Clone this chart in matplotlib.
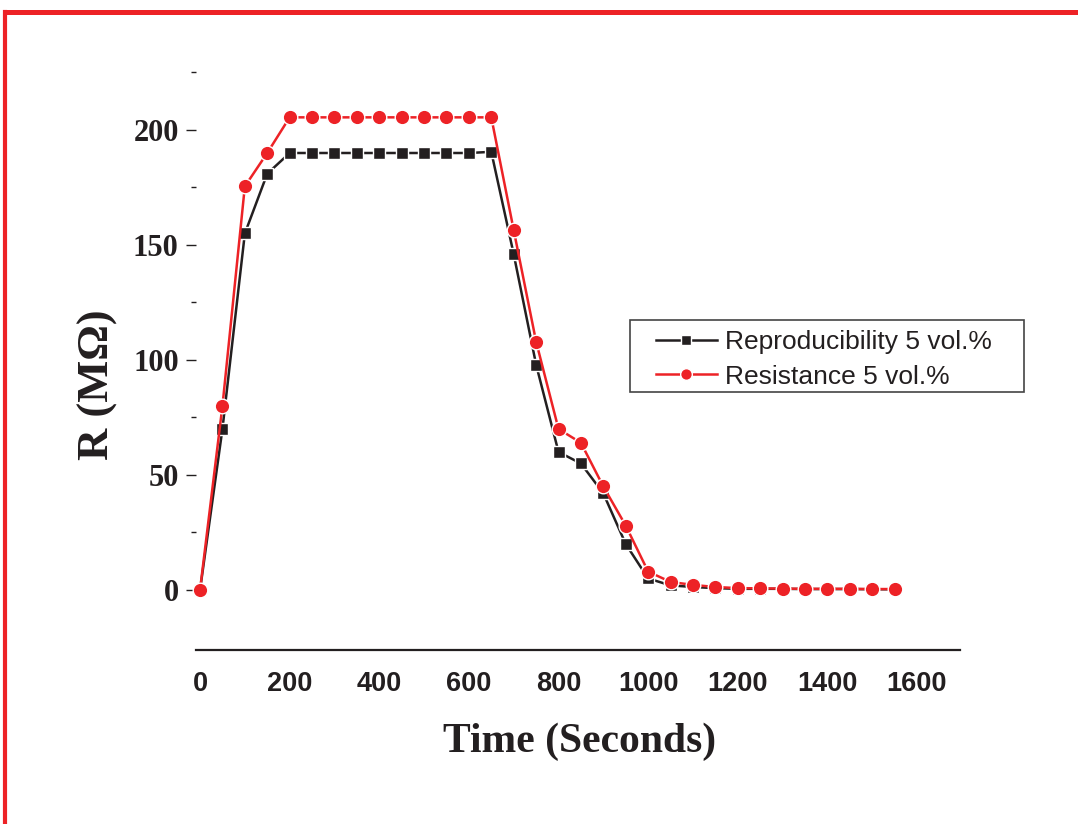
import matplotlib
matplotlib.use("Agg")
import matplotlib.pyplot as plt
from matplotlib.lines import Line2D
from matplotlib.patches import Rectangle
from matplotlib.ticker import FixedLocator

# Time axis (seconds)
time_s = [0, 50, 100, 150, 200, 250, 300, 350, 400, 450, 500, 550, 600, 650,
          700, 750, 800, 850, 900, 950, 1000, 1050, 1100, 1150, 1200, 1250,
          1300, 1350, 1400, 1450, 1500, 1550]

# Resistance readings (MOhm)
reproducibility = [0, 70, 155, 181, 190, 190, 190, 190, 190, 190, 190, 190, 190, 190.5,
                   146, 98, 60, 55, 42, 20, 5, 2, 1.3, 0.8, 0.5, 0.5,
                   0.5, 0.4, 0.4, 0.4, 0.3, 0.3]
resistance = [0, 80, 175.5, 190, 205.5, 205.5, 205.5, 205.5, 205.5, 205.5, 205.5, 205.5, 205.5, 205.5,
              156.5, 108, 70, 64, 45, 28, 8, 3.5, 2.2, 1.3, 0.8, 0.7,
              0.6, 0.5, 0.5, 0.5, 0.4, 0.4]

series_labels = ["Reproducibility 5 vol.%", "Resistance 5 vol.%"]
x_ticks = [0, 200, 400, 600, 800, 1000, 1200, 1400, 1600]
y_ticks = [0, 50, 100, 150, 200]
y_minor_ticks = [25, 75, 125, 175, 225]

RED = "#ed2226"
BLACK = "#231f20"

W, H = 1078, 824
fig = plt.figure(figsize=(W / 100, H / 100), dpi=100)
fig.patch.set_facecolor("white")

# Red frame along the top and left edges
fig.add_artist(Line2D([4.5 / W, 4.5 / W], [0, 1 - 12 / H], transform=fig.transFigure,
                      color=RED, lw=3.0, solid_capstyle="projecting"))
fig.add_artist(Line2D([4.5 / W, 1], [1 - 12 / H, 1 - 12 / H], transform=fig.transFigure,
                      color=RED, lw=3.6, solid_capstyle="projecting"))

left, right = 196 / W, 960 / W
bottom, top = 1 - 650 / H, 1 - 65.6 / H
ax = fig.add_axes([left, bottom, right - left, top - bottom])

ax.plot(time_s, reproducibility, color=BLACK, lw=1.8, marker="s", ms=9,
        mfc=BLACK, mec="white", mew=1.0, label=series_labels[0], clip_on=False, zorder=3)
ax.plot(time_s, resistance, color=RED, lw=1.8, marker="o", ms=10.5,
        mfc=RED, mec="white", mew=1.0, label=series_labels[1], clip_on=False, zorder=4)

ax.set_xlim(-9, 1696)
ax.set_ylim(-26.1, 228)

for s in ("top", "right", "left"):
    ax.spines[s].set_visible(False)
ax.spines["bottom"].set_color(BLACK)
ax.spines["bottom"].set_linewidth(1.6)

ax.set_xticks(x_ticks)
ax.set_yticks(y_ticks)
ax.yaxis.set_minor_locator(FixedLocator(y_minor_ticks))
ax.tick_params(axis="x", length=0, pad=15)
ax.tick_params(axis="y", which="major", length=7.5, width=1.0, color=BLACK, pad=5)
ax.tick_params(axis="y", which="minor", length=3.6, width=1.0, color=BLACK)

for lbl in ax.get_xticklabels():
    lbl.set_fontfamily("Liberation Sans")
    lbl.set_fontweight("bold")
    lbl.set_fontsize(19.5)
    lbl.set_color(BLACK)
for lbl in ax.get_yticklabels():
    lbl.set_fontfamily("Liberation Serif")
    lbl.set_fontweight("bold")
    lbl.set_fontsize(22)
    lbl.set_color(BLACK)

fig.text(580 / W, 1 - 742 / H, "Time (Seconds)", family="Liberation Serif",
         weight="bold", fontsize=30, color=BLACK, ha="center", va="center")
fig.text(98 / W, 1 - 385 / H, "R (MΩ)", family="Liberation Serif",
         weight="bold", fontsize=32, color=BLACK, ha="center", va="center", rotation=90)

# Legend entries without their own frame; the box is drawn separately
leg = ax.legend(loc="upper left", bbox_to_anchor=(656 / W, 1 - 330 / H),
                bbox_transform=fig.transFigure, borderaxespad=0,
                prop={"family": "Liberation Sans", "size": 19},
                frameon=False, handlelength=2.3, handletextpad=0.3,
                labelspacing=0.4, borderpad=0.0, markerscale=0.8)
for t in leg.get_texts():
    t.set_color(BLACK)
fig.add_artist(Rectangle((630 / W, 1 - 392 / H), (1024 - 630) / W, (392 - 320) / H,
                         transform=fig.transFigure, fill=False,
                         edgecolor="#444444", lw=1.2))

fig.savefig("out.png", dpi=100, facecolor="white")
